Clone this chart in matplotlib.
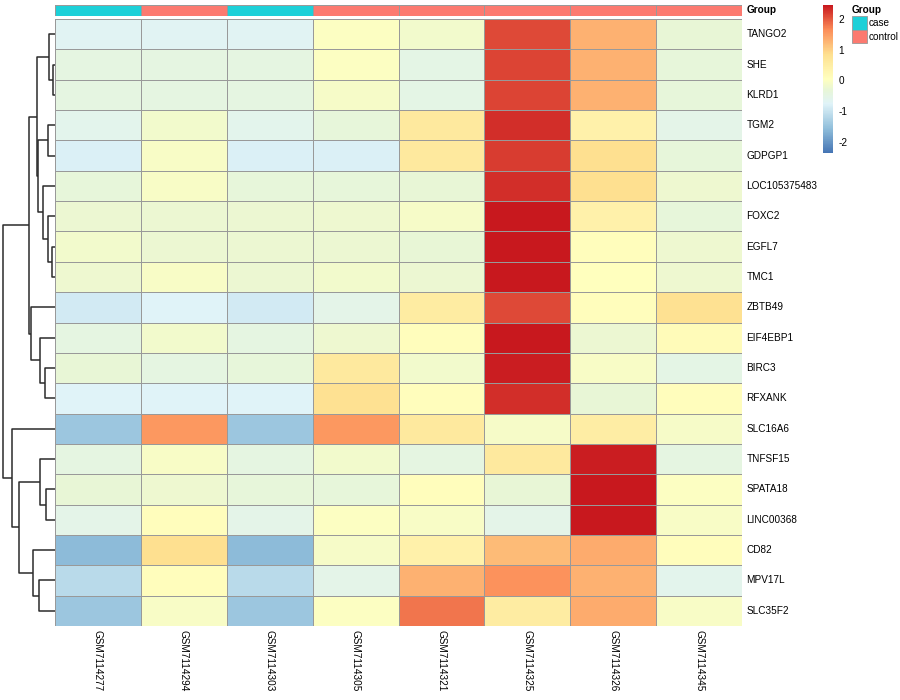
import numpy as np
import matplotlib.pyplot as plt
from matplotlib.colors import LinearSegmentedColormap

plt.rcParams['font.family'] = ['Liberation Sans', 'DejaVu Sans']

genes = ["TANGO2", "SHE", "KLRD1", "TGM2", "GDPGP1", "LOC105375483", "FOXC2",
         "EGFL7", "TMC1", "ZBTB49", "EIF4EBP1", "BIRC3", "RFXANK", "SLC16A6",
         "TNFSF15", "SPATA18", "LINC00368", "CD82", "MPV17L", "SLC35F2"]
samples = ["GSM7114277", "GSM7114294", "GSM7114303", "GSM7114305",
           "GSM7114321", "GSM7114325", "GSM7114326", "GSM7114345"]
group = ["case", "control", "case", "control", "control", "control", "control", "control"]
group_colors = {"case": "#1DD0D8", "control": "#FC7A70"}

# valeurs z (lignes = genes, colonnes = echantillons)
z = np.array([
    [-0.70, -0.70, -0.70,  0.00, -0.15,  2.10,  1.30, -0.30],
    [-0.45, -0.45, -0.45,  0.00, -0.50,  2.15,  1.30, -0.35],
    [-0.45, -0.45, -0.45, -0.10, -0.50,  2.15,  1.30, -0.35],
    [-0.60, -0.15, -0.60, -0.35,  0.60,  2.30,  0.40, -0.55],
    [-0.80, -0.05, -0.80, -0.80,  0.60,  2.20,  0.85, -0.35],
    [-0.35, -0.05, -0.35, -0.35, -0.30,  2.30,  0.85, -0.20],
    [-0.25, -0.25, -0.25, -0.20, -0.10,  2.45,  0.40, -0.35],
    [-0.15, -0.25, -0.25, -0.25, -0.30,  2.45,  0.10, -0.20],
    [-0.20, -0.05, -0.25, -0.15, -0.25,  2.45,  0.05, -0.20],
    [-0.90, -0.75, -0.90, -0.55,  0.55,  2.10,  0.10,  0.80],
    [-0.45, -0.15, -0.45, -0.20,  0.10,  2.45, -0.25,  0.15],
    [-0.30, -0.45, -0.35,  0.60, -0.15,  2.40, -0.05, -0.50],
    [-0.75, -0.75, -0.75,  0.80,  0.10,  2.30, -0.30,  0.10],
    [-1.45,  1.55, -1.45,  1.55,  0.60, -0.10,  0.50, -0.10],
    [-0.45, -0.05, -0.45, -0.15, -0.45,  0.60,  2.40, -0.45],
    [-0.30, -0.20, -0.35, -0.35,  0.10, -0.30,  2.45,  0.00],
    [-0.55,  0.10, -0.55,  0.00, -0.05, -0.55,  2.45, -0.05],
    [-1.60,  0.85, -1.60, -0.10,  0.40,  1.20,  1.35,  0.10],
    [-1.15,  0.10, -1.15, -0.55,  1.30,  1.60,  1.30, -0.60],
    [-1.45, -0.05, -1.45,  0.00,  1.80,  0.55,  1.35, -0.05],
])
vmin, vmax = -2.36, 2.455
cbar_ticks = [2, 1, 0, -1, -2]

# arbre des lignes : (enfant gauche, enfant droit, hauteur), ids facon linkage
merges = [
    (1, 2, 5), (0, 20, 17), (3, 4, 22), (7, 8, 8), (6, 23, 20),
    (5, 24, 35), (22, 25, 52), (21, 26, 55), (11, 12, 30), (10, 28, 45),
    (9, 29, 73), (27, 30, 77), (15, 16, 27), (14, 32, 45), (18, 19, 47),
    (17, 34, 67), (33, 35, 107), (13, 36, 130), (31, 37, 157),
]

# palette : valeur d'ancrage -> couleur
pal_vals = [vmin, -1.56, -0.76, -0.30, 0.045, 0.85, 1.65, vmax]
pal_cols = ["#4575B4", "#91BFDB", "#E0F3F8", "#E8F6D6", "#FFFFBF", "#FEE090", "#FC8D59", "#C8181E"]
cmap = LinearSegmentedColormap.from_list(
    "ph", [((v - vmin) / (vmax - vmin), c) for v, c in zip(pal_vals, pal_cols)])

W, H = 900, 700
fig = plt.figure(figsize=(9, 7), dpi=100)


def box(x0, y0, x1, y1):
    # pixels (haut-gauche) -> fraction de figure
    return [x0 / W, 1 - y1 / H, (x1 - x0) / W, (y1 - y0) / H]


nr, nc = z.shape
hm_l, hm_t, hm_r, hm_b = 55, 19, 742, 626
grid_col = "#999999"

# heatmap
ax = fig.add_axes(box(hm_l, hm_t, hm_r, hm_b))
mesh = ax.pcolormesh(z, cmap=cmap, vmin=vmin, vmax=vmax, edgecolors=grid_col, linewidth=0.6)
ax.set_xlim(0, nc)
ax.set_ylim(nr, 0)
ax.set_xticks([])
ax.set_yticks([])
for s in ax.spines.values():
    s.set_visible(False)
for i, g in enumerate(genes):
    ax.text(nc + 0.05, i + 0.5, g, ha="left", va="center", fontsize=7.2)
for j, s in enumerate(samples):
    ax.text(j + 0.5, nr + 0.12, s, ha="center", va="top", rotation=270, fontsize=7.2)

# annotation du haut
axa = fig.add_axes(box(hm_l, 5, hm_r, 15.5))
axa.pcolormesh(np.arange(nc).reshape(1, -1),
               cmap=LinearSegmentedColormap.from_list("g", [group_colors[g] for g in group], N=nc),
               edgecolors=grid_col, linewidth=0.6)
axa.set_xlim(0, nc)
axa.set_ylim(1, 0)
axa.axis("off")
axa.text(nc + 0.05, 0.5, "Group", ha="left", va="center", fontsize=7.2, fontweight="bold")

# dendrogramme
axd = fig.add_axes(box(2, hm_t, hm_l, hm_b))
pos = {i: (i + 0.5, 0.0) for i in range(nr)}
for k, (a, b, h) in enumerate(merges):
    ya, ha_ = pos[a]
    yb, hb = pos[b]
    axd.plot([ha_, h, h, hb], [ya, ya, yb, yb], color="#2B2B2B", lw=1.1, solid_capstyle="butt")
    pos[nr + k] = ((ya + yb) / 2, h)
axd.set_xlim(159, 0)
axd.set_ylim(nr, 0)
axd.axis("off")

# barre de couleur
cax = fig.add_axes(box(823, 5, 833, 153))
cb = fig.colorbar(mesh, cax=cax, ticks=cbar_ticks)
cb.outline.set_visible(False)
cax.tick_params(length=0, labelsize=7.2, pad=4)
cax.set_yticklabels([str(t) for t in cbar_ticks])

# legende Group
axl = fig.add_axes(box(850, 0, 900, 50))
axl.set_xlim(850, 900)
axl.set_ylim(50, 0)
axl.axis("off")
axl.text(852, 10, "Group", ha="left", va="center", fontsize=7.2, fontweight="bold")
for i, g in enumerate(["case", "control"]):
    axl.add_patch(plt.Rectangle((852, 16 + i * 13.5), 15, 13.5, facecolor=group_colors[g],
                                edgecolor=grid_col, lw=0.6))
    axl.text(869, 23 + i * 13.5, g, ha="left", va="center", fontsize=7.2)

fig.savefig("out.png", dpi=100)
